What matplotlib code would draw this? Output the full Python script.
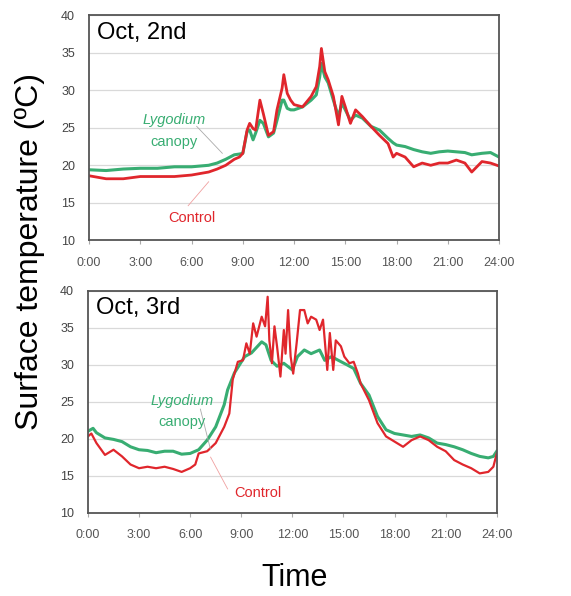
import matplotlib.pyplot as plt

plt.rcParams['font.family'] = ['Liberation Sans', 'DejaVu Sans']

# Oct 2nd (hours, deg C)
hours_2 = [0, 1, 2, 3, 4, 5, 6, 7, 7.5, 8, 8.5, 8.8, 9.0, 9.25, 9.4, 9.6, 9.75,
           10.0, 10.2, 10.5, 10.8, 11.0, 11.3, 11.4, 11.6, 11.8, 12.0, 12.5,
           13.0, 13.3, 13.5, 13.6, 13.8, 14.0, 14.3, 14.6, 14.8, 15.0, 15.3,
           15.6, 16.0, 16.5, 17.0, 17.5, 17.8, 18.0, 18.5, 19.0, 19.5, 20.0,
           20.5, 21.0, 21.5, 22.0, 22.4, 22.7, 23.0, 23.5, 24.0]
control_2 = [18.6, 18.2, 18.2, 18.5, 18.5, 18.5, 18.7, 19.1, 19.5, 20.0, 20.8,
             21.1, 21.6, 24.7, 25.6, 24.9, 24.7, 28.7, 26.9, 24.0, 24.5, 27.4,
             30.3, 32.1, 29.6, 28.7, 28.1, 27.8, 29.2, 30.5, 33.2, 35.6, 32.5,
             31.4, 29.2, 25.4, 29.2, 27.8, 25.6, 27.4, 26.5, 25.2, 24.0, 22.9,
             21.1, 21.6, 21.1, 19.8, 20.3, 20.0, 20.3, 20.3, 20.7, 20.3, 19.1,
             19.8, 20.5, 20.3, 19.9]
canopy_2 = [19.4, 19.3, 19.5, 19.6, 19.6, 19.8, 19.8, 20.0, 20.3, 20.8, 21.4,
            21.5, 21.6, 24.5, 24.7, 23.4, 24.3, 26.0, 25.6, 23.8, 24.3, 26.0,
            28.7, 28.7, 27.6, 27.4, 27.4, 27.8, 28.7, 29.4, 31.8, 33.6, 31.8,
            31.0, 28.7, 26.5, 28.3, 27.4, 26.0, 26.7, 26.3, 25.2, 24.7, 23.6,
            23.0, 22.7, 22.5, 22.1, 21.8, 21.6, 21.8, 21.9, 21.8, 21.7, 21.4,
            21.5, 21.6, 21.7, 21.1]

# Oct 3rd
hours_3c = [0, 0.2, 0.5, 1.0, 1.5, 2.0, 2.5, 3.0, 3.5, 4.0, 4.5, 5.0, 5.5, 6.0,
            6.3, 6.5, 7.0, 7.5, 8.0, 8.3, 8.5, 8.8, 9.1, 9.3, 9.5, 9.7, 9.9,
            10.2, 10.4, 10.55, 10.65, 10.8, 10.95, 11.1, 11.3, 11.5, 11.6, 11.75,
            11.9, 12.05, 12.25, 12.45, 12.7, 12.9, 13.1, 13.4, 13.6, 13.8, 14.05,
            14.2, 14.4, 14.55, 14.85, 15.05, 15.35, 15.6, 15.85, 16.0, 16.5,
            17.0, 17.5, 18.0, 18.5, 19.0, 19.5, 20.0, 20.5, 21.0, 21.5, 22.0,
            22.5, 23.0, 23.5, 23.8, 24.0]
control_3 = [20.3, 20.7, 19.4, 17.8, 18.5, 17.6, 16.5, 16.0, 16.2, 16.0, 16.2,
             15.9, 15.5, 16.0, 16.5, 18.0, 18.3, 19.4, 21.6, 23.4, 28.0, 30.4,
             30.6, 32.9, 31.5, 35.6, 33.8, 36.5, 35.2, 39.2, 33.3, 30.2, 35.2,
             32.5, 28.4, 34.7, 31.5, 37.4, 31.1, 28.8, 32.9, 37.4, 37.4, 35.6,
             36.5, 36.1, 34.7, 36.1, 29.3, 34.3, 29.3, 33.3, 32.5, 31.1, 30.2,
             30.4, 28.8, 27.5, 25.2, 22.1, 20.3, 19.6, 18.9, 19.8, 20.3, 19.8,
             18.9, 18.3, 17.1, 16.5, 16.0, 15.3, 15.5, 16.2, 18.0]

hours_3g = [0, 0.3, 0.5, 1.0, 1.5, 2.0, 2.5, 3.0, 3.5, 4.0, 4.5, 5.0, 5.5, 6.0,
            6.5, 7.0, 7.5, 8.0, 8.2, 8.6, 9.2, 9.6, 10.2, 10.45, 10.75, 11.1,
            11.5, 12.0, 12.3, 12.7, 13.1, 13.6, 13.9, 14.3, 14.7, 15.2, 15.6,
            16.0, 16.5, 17.0, 17.5, 18.0, 18.5, 19.0, 19.5, 20.0, 20.5, 21.0,
            21.5, 22.0, 22.5, 23.0, 23.5, 23.8, 24.0]
canopy_3 = [21.0, 21.4, 20.8, 20.1, 19.9, 19.6, 18.9, 18.5, 18.4, 18.1, 18.3,
            18.3, 17.9, 18.0, 18.5, 19.8, 21.6, 24.6, 26.6, 28.9, 31.1, 31.6,
            33.1, 32.7, 30.6, 29.8, 30.2, 29.3, 31.1, 32.0, 31.5, 32.0, 30.6,
            31.1, 30.6, 30.0, 29.5, 27.5, 25.9, 23.0, 21.2, 20.7, 20.5, 20.3,
            20.5, 20.1, 19.4, 19.2, 18.9, 18.5, 18.0, 17.6, 17.4, 17.6, 18.3]

xticks = [0, 3, 6, 9, 12, 15, 18, 21, 24]
xticklabels = ["0:00", "3:00", "6:00", "9:00", "12:00", "15:00", "18:00", "21:00", "24:00"]
yticks = [10, 15, 20, 25, 30, 35, 40]

green = "#38ad72"
red = "#e0262c"

fig = plt.figure(figsize=(5.71, 5.96), dpi=100)
ax1 = fig.add_axes([0.156, 0.597, 0.718, 0.377])
ax2 = fig.add_axes([0.154, 0.140, 0.716, 0.372])


def style(ax, title):
    ax.set_xlim(0, 24)
    ax.set_ylim(10, 40)
    ax.set_xticks(xticks)
    ax.set_xticklabels(xticklabels)
    ax.set_yticks(yticks)
    ax.grid(axis="y", color="#d9d9d9", lw=0.9)
    ax.set_axisbelow(True)
    for s in ax.spines.values():
        s.set_color("#555555")
        s.set_linewidth(1.3)
    ax.tick_params(axis="x", length=3, color="#aaaaaa", labelsize=9,
                   labelcolor="#555555", pad=9)
    ax.tick_params(axis="y", length=0, labelsize=9, labelcolor="#444444", pad=10)
    ax.text(0.02, 0.97, title, transform=ax.transAxes, fontsize=17,
            va="top", ha="left")


ax1.plot(hours_2, canopy_2, color=green, lw=2.2)
ax1.plot(hours_2, control_2, color=red, lw=2)
style(ax1, "Oct, 2nd")
ax1.text(5.0, 25.5, "Lygodium", style="italic", color=green, fontsize=10.5, ha="center")
ax1.text(5.0, 22.6, "canopy", color=green, fontsize=10.5, ha="center")
ax1.plot([6.3, 7.8], [25.2, 21.6], color="#aaaaaa", lw=0.6)
ax1.text(6.0, 12.4, "Control", color=red, fontsize=10.5, ha="center")
ax1.plot([5.8, 7.0], [14.6, 17.8], color="#f0a0a0", lw=0.6)

ax2.plot(hours_3g, canopy_3, color=green, lw=2.2)
ax2.plot(hours_3c, control_3, color=red, lw=1.6)
style(ax2, "Oct, 3rd")
ax2.text(5.5, 24.6, "Lygodium", style="italic", color=green, fontsize=10.5, ha="center")
ax2.text(5.5, 21.7, "canopy", color=green, fontsize=10.5, ha="center")
ax2.plot([6.6, 7.2], [24.0, 18.5], color="#aaaaaa", lw=0.6)
ax2.text(10.0, 12.1, "Control", color=red, fontsize=10.5, ha="center")
ax2.plot([7.2, 8.2], [17.5, 13.2], color="#f0a0a0", lw=0.6)

fig.text(0.052, 0.578, "Surface temperature (ºC)", rotation=90, fontsize=23,
         ha="center", va="center")
fig.text(0.515, 0.03, "Time", fontsize=22, ha="center", va="center")

fig.savefig("out.png", dpi=100)
